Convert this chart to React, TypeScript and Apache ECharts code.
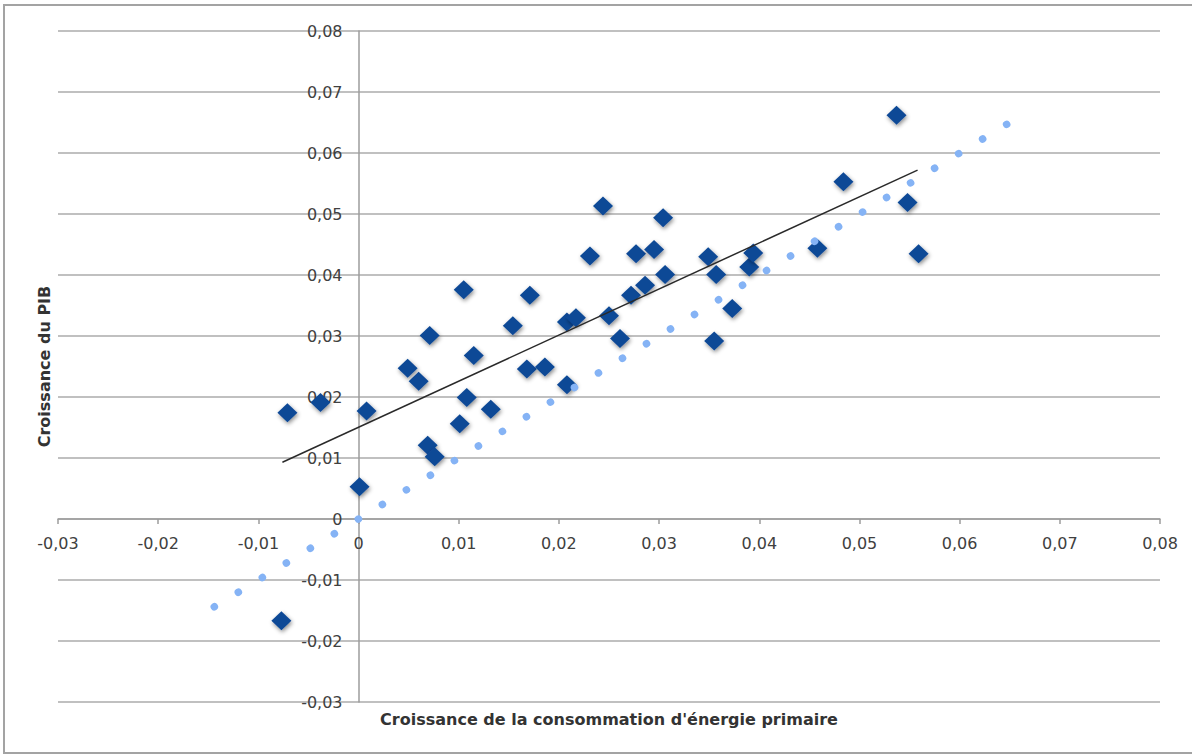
import React, { useEffect, useRef } from "react";
import * as echarts from "echarts";

// ---- data ----
const AXIS_MIN = -0.03;
const AXIS_MAX = 0.08;
const AXIS_STEP = 0.01;
const xTickLabels = ["-0,03", "-0,02", "-0,01", "0", "0,01", "0,02", "0,03", "0,04", "0,05", "0,06", "0,07", "0,08"];
const yTickLabels = ["-0,03", "-0,02", "-0,01", "0", "0,01", "0,02", "0,03", "0,04", "0,05", "0,06", "0,07", "0,08"];

const energyGrowth = [
  -0.0071, -0.0038, 0.0008, 0.0001, -0.0077, 0.0049, 0.006, 0.0071, 0.0069, 0.0076,
  0.0105, 0.0108, 0.0115, 0.0101, 0.0132, 0.0154, 0.0171, 0.0168, 0.0186, 0.0208,
  0.0208, 0.0217, 0.0231, 0.0244, 0.025, 0.0261, 0.0272, 0.0277, 0.0286, 0.0295,
  0.0304, 0.0306, 0.0349, 0.0357, 0.0355, 0.0373, 0.039, 0.0394, 0.0458, 0.0484,
  0.0537, 0.0548, 0.0559,
];
const gdpGrowth = [
  0.0174, 0.0191, 0.0177, 0.0053, -0.0167, 0.0247, 0.0226, 0.0301, 0.0121, 0.0102,
  0.0376, 0.0199, 0.0268, 0.0156, 0.018, 0.0317, 0.0367, 0.0246, 0.0249, 0.022,
  0.0323, 0.033, 0.0431, 0.0513, 0.0333, 0.0296, 0.0367, 0.0435, 0.0383, 0.0442,
  0.0494, 0.0401, 0.043, 0.0401, 0.0292, 0.0345, 0.0413, 0.0436, 0.0444, 0.0553,
  0.0662, 0.0519, 0.0435,
];
const trendLine = [
  [-0.0076, 0.0093],
  [0.0558, 0.0572],
];
const identityLine = [
  [-0.0144, -0.0144],
  [0.0648, 0.0648],
];

// ---- layout / style ----
const W = 1192;
const H = 755;
const GRID = { left: 58, top: 31, width: 1102, height: 671 };
const DOT_STEP = 0.0024;
const FONT = "DejaVu Sans";

export default function App() {
  const ref = useRef<HTMLDivElement>(null);

  useEffect(() => {
    if (!ref.current) return;
    const chart = echarts.init(ref.current, undefined, { renderer: "svg" });

    const span = AXIS_MAX - AXIS_MIN;
    const dotGap = Math.hypot((DOT_STEP / span) * GRID.width, (DOT_STEP / span) * GRID.height);
    // axes cross at zero: shift them from the grid edges onto the zero lines
    const xAxisOffset = -(GRID.height * (0 - AXIS_MIN)) / span;
    const yAxisOffset = -(GRID.width * (0 - AXIS_MIN)) / span;

    const scatterData = energyGrowth.map((x, i) => [x, gdpGrowth[i]]);

    const option: any = {
      animation: false,
      backgroundColor: "#ffffff",
      textStyle: { fontFamily: FONT },
      grid: {
        left: GRID.left,
        top: GRID.top,
        width: GRID.width,
        height: GRID.height,
        containLabel: false,
        outerBoundsMode: "none",
      },
      graphic: [
        {
          type: "rect",
          shape: { x: 4, y: 5, width: W + 10, height: H - 7 },
          style: { fill: "none", stroke: "#a3a3a3", lineWidth: 2 },
          silent: true,
          z: -10,
        },
      ],
      xAxis: {
        type: "value",
        position: "bottom",
        offset: xAxisOffset,
        min: AXIS_MIN,
        max: AXIS_MAX,
        interval: AXIS_STEP,
        axisLine: { show: true, onZero: false, lineStyle: { color: "#9c9c9c", width: 1.5 } },
        axisTick: { show: true, length: 5, inside: false, lineStyle: { color: "#9c9c9c", width: 1.5 } },
        axisLabel: {
          margin: 16,
          fontSize: 16,
          color: "#404040",
          fontFamily: FONT,
          formatter: (v: number) => xTickLabels[Math.round((v - AXIS_MIN) / AXIS_STEP)] ?? "",
        },
        splitLine: { show: false },
        name: "Croissance de la consommation d'énergie primaire",
        nameLocation: "middle",
        nameGap: 192,
        nameTextStyle: { fontSize: 16, fontWeight: "bold", color: "#333333", fontFamily: FONT },
      },
      yAxis: {
        type: "value",
        position: "left",
        offset: yAxisOffset,
        min: AXIS_MIN,
        max: AXIS_MAX,
        interval: AXIS_STEP,
        axisLine: { show: true, onZero: false, lineStyle: { color: "#9c9c9c", width: 1.5 } },
        axisTick: { show: false },
        axisLabel: {
          margin: 16,
          fontSize: 16,
          color: "#404040",
          fontFamily: FONT,
          formatter: (v: number) => yTickLabels[Math.round((v - AXIS_MIN) / AXIS_STEP)] ?? "",
        },
        splitLine: { show: true, lineStyle: { color: "#ababab", width: 1.5 } },
        name: "Croissance du PIB",
        nameLocation: "middle",
        nameGap: 306,
        nameTextStyle: { fontSize: 16, fontWeight: "bold", color: "#333333", fontFamily: FONT },
      },
      series: [
        {
          type: "scatter",
          data: scatterData,
          symbol: "diamond",
          symbolSize: [20, 19],
          itemStyle: {
            color: "#0c4896",
            opacity: 1,
            shadowBlur: 4,
            shadowColor: "rgba(0,0,0,0.45)",
            shadowOffsetX: 1,
            shadowOffsetY: 2,
          },
          z: 2,
        },
        {
          type: "line",
          data: identityLine,
          symbol: "none",
          lineStyle: { color: "#85b3f5", width: 7.5, type: [0.1, dotGap - 0.14], cap: "round" },
          z: 3,
        },
        {
          type: "line",
          data: trendLine,
          symbol: "none",
          lineStyle: { color: "#2a2a2a", width: 1.5 },
          z: 4,
        },
      ],
    };

    chart.setOption(option);
    return () => chart.dispose();
  }, []);

  return (
    <div
      ref={ref}
      style={{ position: "fixed", left: 0, top: 0, width: W, height: H, background: "#fff" }}
    />
  );
}
